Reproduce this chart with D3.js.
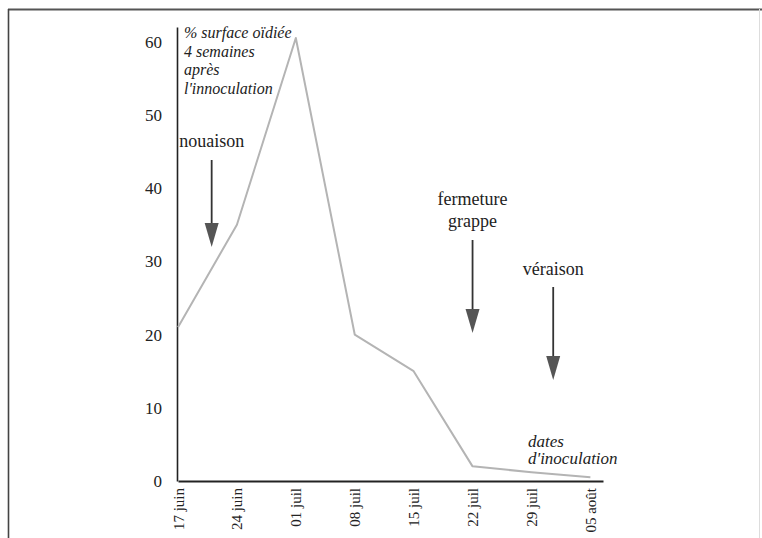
<!DOCTYPE html>
<html><head><meta charset="utf-8">
<script src="https://cdn.jsdelivr.net/npm/d3@7"></script>
<style>
html,body{margin:0;padding:0;background:#fff;}
svg{display:block;font-family:"Liberation Serif","Times New Roman",serif;}
svg text{font-family:"Liberation Serif","Times New Roman",serif !important;fill:#222;}
</style></head>
<body>
<svg id="chart" width="762" height="538"></svg>
<script>
// ---- data ----
const dates = ["2000-06-17","2000-06-24","2000-07-01","2000-07-08","2000-07-15","2000-07-22","2000-07-29","2000-08-05"];
const dateLabels = ["17 juin","24 juin","01 juil","08 juil","15 juil","22 juil","29 juil","05 août"];
const surfaceValues = [21, 35, 60.5, 20, 15, 2, 1.2, 0.5];
const yTicks = [0, 10, 20, 30, 40, 50, 60];
const yTitleLines = ["% surface oïdiée", "4 semaines", "après", "l'innoculation"];
const xTitleLines = ["dates", "d'inoculation"];
const stageLabels = [["nouaison"], ["fermeture","grappe"], ["véraison"]];
const stageDates = ["2000-06-21T00", "2000-07-22T00", "2000-07-31T14"];

// ---- layout ----
const svg = d3.select("#chart");
const parse = d3.utcParse("%Y-%m-%d");
const parseH = d3.utcParse("%Y-%m-%dT%H");
const x = d3.scaleUtc()
  .domain([parse("2000-06-17"), parseH("2000-08-06T12")])
  .range([178, 603]);
const y = d3.scaleLinear().domain([0, 62]).range([481, 27]);

// frame
svg.append("line").attr("x1",8).attr("x2",762).attr("y1",9.5).attr("y2",9.5)
  .attr("stroke","#555").attr("stroke-width",2);
svg.append("line").attr("x1",8.5).attr("x2",8.5).attr("y1",9).attr("y2",538)
  .attr("stroke","#444").attr("stroke-width",1.6);
svg.append("line").attr("x1",759.5).attr("x2",759.5).attr("y1",9).attr("y2",538)
  .attr("stroke","#ddd").attr("stroke-width",1);

// y axis
const yAxis = svg.append("g").attr("transform","translate(177,0)")
  .call(d3.axisLeft(y).tickValues(yTicks).tickSize(0).tickPadding(15).tickFormat(d3.format("d")));
yAxis.attr("font-family",null);
yAxis.select(".domain").attr("stroke","#222").attr("stroke-width",1.6);
yAxis.selectAll("text").style("font-size","17px").attr("fill","#222");

// x axis
const xAxis = svg.append("g").attr("transform","translate(0,481)")
  .call(d3.axisBottom(x).tickValues(dates.map(parse)).tickSize(0).tickFormat((d,i)=>dateLabels[i]));
xAxis.attr("font-family",null);
xAxis.select(".domain").attr("stroke","#222").attr("stroke-width",2);
xAxis.selectAll("text")
  .style("font-size","15px").attr("fill","#222")
  .attr("text-anchor","end")
  .attr("transform","translate(5,7) rotate(-90)")
  .attr("x",0).attr("y",0).attr("dy",0);

// line
const line = d3.line().x((d,i)=>x(parse(dates[i]))).y(d=>y(d));
svg.append("path").datum(surfaceValues)
  .attr("d", line).attr("fill","none").attr("stroke","#b4b4b4").attr("stroke-width",2)
  .attr("stroke-linejoin","round");

// y title
const yt = svg.append("text").style("font-style","italic").style("font-size","16px");
yTitleLines.forEach((t,i)=>{
  yt.append("tspan").attr("x",184).attr("y",38 + i*18.5).text(t);
});

// x title
const xt = svg.append("text").style("font-style","italic").style("font-size","17px");
xTitleLines.forEach((t,i)=>{
  xt.append("tspan").attr("x",528).attr("y",447 + i*17).text(t);
});

// stages
const labelTops = [147, 205, 275];
const stageArrowTop = [160, 240, 287];
const stageArrowBottom = [247, 333, 380];
stageLabels.forEach((lines,k)=>{
  const cx = x(parseH(stageDates[k]));
  lines.forEach((t,i)=>{
    svg.append("text").attr("x",cx).attr("y",labelTops[k] + i*22)
      .attr("text-anchor","middle").style("font-size","18px").text(t);
  });
  const top = stageArrowTop[k], bot = stageArrowBottom[k];
  svg.append("line").attr("x1",cx).attr("x2",cx).attr("y1",top).attr("y2",bot-20)
    .attr("stroke","#333").attr("stroke-width",1.8);
  svg.append("path")
    .attr("d", `M${cx-7},${bot-24} L${cx+7},${bot-24} L${cx},${bot} Z`)
    .attr("fill","#555");
});
</script>
</body></html>
